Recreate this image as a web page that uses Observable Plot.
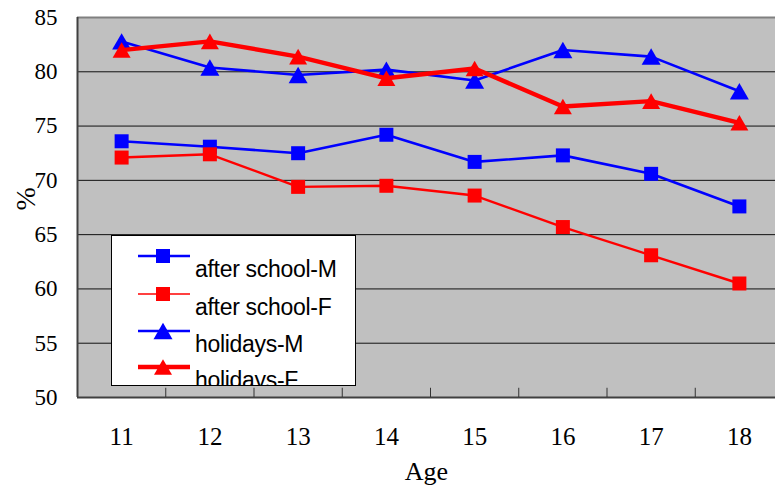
<!DOCTYPE html>
<html>
<head>
<meta charset="utf-8">
<script src="https://cdn.jsdelivr.net/npm/d3@7"></script>
<script src="https://cdn.jsdelivr.net/npm/@observablehq/plot@0.6"></script>
<style>
  body { margin: 0; background: white; }
  #wrap { position: relative; width: 775px; height: 493px; overflow: hidden; }
  #legend { position: absolute; left: 111px; top: 235px; width: 243px; height: 149px;
    border: 1px solid #000; background: #fff; overflow: hidden;
    font-family: "Liberation Sans", Arial, sans-serif; font-size: 23px; letter-spacing: -0.3px; color: #000; }
  .sw { position: absolute; left: 25px; }
  .lt { position: absolute; left: 83px; white-space: nowrap; line-height: 1; }
</style>
</head>
<body>
<div id="wrap"></div>
<script>
// ---- data ----
const ages = [11, 12, 13, 14, 15, 16, 17, 18];
const afterSchoolM = [73.6, 73.1, 72.5, 74.2, 71.7, 72.3, 70.6, 67.6];
const afterSchoolF = [72.1, 72.4, 69.4, 69.5, 68.6, 65.7, 63.1, 60.5];
const holidaysM    = [82.8, 80.4, 79.7, 80.2, 79.2, 82.0, 81.4, 78.2];
const holidaysF    = [82.0, 82.8, 81.4, 79.4, 80.3, 76.8, 77.3, 75.3];
const seriesNames  = ["after school-M", "after school-F", "holidays-M", "holidays-F"];
const yTicks = [50, 55, 60, 65, 70, 75, 80, 85];

// triangle centred on its bounding box, side = sqrt(size)
const tri = { draw(ctx, size) {
  const s = Math.sqrt(size), h = s * Math.sqrt(3) / 2;
  ctx.moveTo(0, -h / 2); ctx.lineTo(s / 2, h / 2); ctx.lineTo(-s / 2, h / 2); ctx.closePath();
}};

const series = [
  {name: seriesNames[0], values: afterSchoolM, color: "#0000ff", width: 2.6, symbol: "square", side: 14},
  {name: seriesNames[1], values: afterSchoolF, color: "#ff0000", width: 2.4, symbol: "square", side: 14, legendWidth: 1.5},
  {name: seriesNames[2], values: holidaysM,    color: "#0000ff", width: 2.6, symbol: tri, side: 19},
  {name: seriesNames[3], values: holidaysF,    color: "#ff0000", width: 4.4, symbol: tri, side: 18}
];

const seriesMarks = series.flatMap(s => {
  const rows = ages.map((a, i) => ({age: a, value: s.values[i]}));
  const r = s.side / Math.sqrt(Math.PI);
  return [
    Plot.line(rows, {x: "age", y: "value", stroke: s.color, strokeWidth: s.width}),
    Plot.dot(rows, {x: "age", y: "value", symbol: s.symbol, r, fill: s.color, stroke: null})
  ];
});

const between = ages.slice(0, -1).map(a => a + 0.5);

const chart = Plot.plot({
  width: 775, height: 493,
  marginLeft: 77, marginTop: 17, marginBottom: 96, marginRight: 0,
  style: {background: "white", fontFamily: "Liberation Serif, Times New Roman, serif", color: "black", overflow: "hidden"},
  x: {type: "linear", domain: [10.5, 18.5], range: [77, 783]},
  y: {domain: [50, 85]},
  marks: [
    Plot.frame({fill: "#c0c0c0", stroke: null}),
    Plot.ruleY(yTicks.slice(1, -1), {stroke: "#111", strokeWidth: 1}),
    Plot.ruleY([85], {stroke: "#808080", strokeWidth: 2}),
    Plot.ruleY([50], {stroke: "#404040", strokeWidth: 2}),
    Plot.ruleX([10.5], {stroke: "#404040", strokeWidth: 2}),
    Plot.ruleX(between, {y1: 50, y2: 50.85, stroke: "#333", strokeWidth: 1}),
    Plot.axisY(yTicks, {tickSize: 0, tickPadding: 20, fontSize: 23, label: null}),
    Plot.axisX(ages, {tickSize: 0, tickPadding: 30, fontSize: 25, label: null}),
    Plot.text(["Age"], {frameAnchor: "bottom", dy: 82, lineAnchor: "bottom", fontSize: 26}),
    Plot.text(["%"], {frameAnchor: "left", dx: -51, dy: 3, rotate: -90, fontSize: 28}),
    ...seriesMarks
  ]
});
const wrap = document.getElementById("wrap");
wrap.appendChild(chart);

// ---- legend ----
const legend = d3.select(wrap).append("div").attr("id", "legend");
const rowCenters = [20, 58, 95, 131];
series.forEach((s, i) => {
  const svg = legend.append("svg").attr("class", "sw")
    .attr("width", 54).attr("height", 24)
    .style("top", (rowCenters[i] - 12) + "px");
  svg.append("line").attr("x1", 1).attr("x2", 53).attr("y1", 12).attr("y2", 12)
    .attr("stroke", s.color).attr("stroke-width", s.legendWidth || s.width);
  const type = s.symbol === "square" ? d3.symbolSquare : s.symbol;
  svg.append("path").attr("transform", "translate(26,12)")
    .attr("d", d3.symbol().type(type).size(s.side * s.side)())
    .attr("fill", s.color);
  legend.append("div").attr("class", "lt")
    .style("top", (rowCenters[i] + 2) + "px")
    .text(s.name);
});
</script>
</body>
</html>
